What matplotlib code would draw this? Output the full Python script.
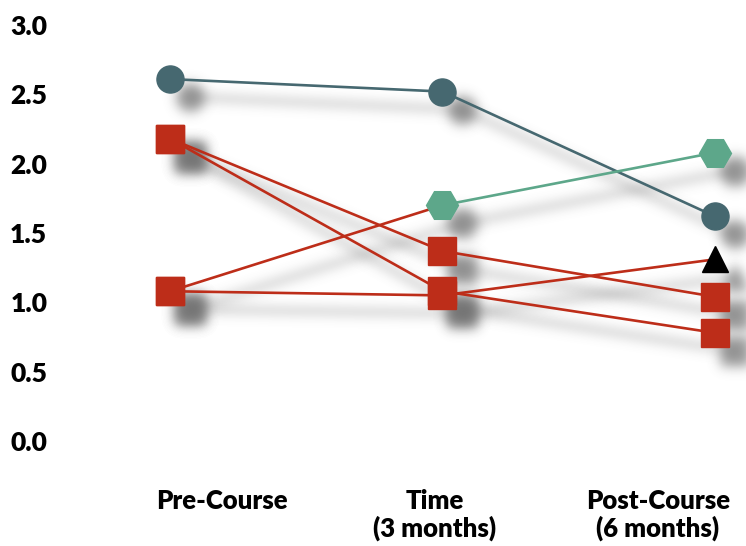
import matplotlib
matplotlib.use("Agg")
import matplotlib.pyplot as plt
import numpy as np

plt.rcParams['font.family'] = ['Lato', 'DejaVu Sans']
plt.rcParams['font.weight'] = 'heavy'

# categories along x and the scores of each tracked line
groups = ['Pre-Course', 'Time\n(3 months)', 'Post-Course\n(6 months)']
x = [0, 1, 2]
slate_scores = [2.61, 2.52, 1.62]
red_a_scores = [2.18, 1.37, 1.04]
red_b_scores = [2.18, 1.08, 0.78]
red_c_scores = [1.08, 1.05, 1.31]
mixed_scores = [1.08, 1.70, 2.08]
yticks = [0.0, 0.5, 1.0, 1.5, 2.0, 2.5, 3.0]

SLATE = '#466870'
RED = '#bd2d19'
GREEN = '#5da78a'
BLACK = '#000000'

# (scores, marker per point, colour per point)
series = [
    (slate_scores, ['o', 'o', 'o'], [SLATE, SLATE, SLATE]),
    (red_a_scores, ['s', 's', 's'], [RED, RED, RED]),
    (red_b_scores, ['s', 's', 's'], [RED, RED, RED]),
    (red_c_scores, ['s', 's', '^'], [RED, RED, BLACK]),
    (mixed_scores, ['s', 'H', 'H'], [RED, GREEN, GREEN]),
]
msize = {'o': 19.5, 's': 20, 'H': 23, '^': 19}


def drop_shadow(img, dpi, dx=20, dy=18, sigma=6.0):
    r = int(3 * sigma)
    pad = max(dx, dy) + r
    a = np.pad(img, ((pad, pad), (pad, pad), (0, 0)))
    alpha = np.roll(np.roll(a[..., 3], dx, axis=1), dy, axis=0)
    t = np.arange(-r, r + 1)
    k = np.exp(-t ** 2 / (2 * sigma ** 2))
    k /= k.sum()
    alpha = np.apply_along_axis(np.convolve, 0, alpha, k, mode='same')
    alpha = np.apply_along_axis(np.convolve, 1, alpha, k, mode='same')
    out = np.zeros_like(a)
    out[..., :3] = 0.42
    out[..., 3] = np.clip(alpha * 0.7, 0, 1)
    return out, -pad, -pad


fig = plt.figure(figsize=(7.46, 5.46), dpi=100)
ax = fig.add_axes([100 / 746, 86 / 546, 646 / 746, 450 / 546])

for ys, marks, cols in series:
    # soft grey shadow under the whole line
    sh, = ax.plot(x, ys, color='grey', lw=2.6, zorder=1)
    sh.set_agg_filter(drop_shadow)
    for m, xi, yi in zip(marks, x, ys):
        p, = ax.plot([xi], [yi], marker=m, ms=msize[m], color='grey', ls='none', zorder=1)
        p.set_agg_filter(drop_shadow)
    # segments take the colour of the point they start from
    for i in range(len(x) - 1):
        ax.plot(x[i:i + 2], ys[i:i + 2], color=cols[i], lw=1.9, zorder=3,
                solid_capstyle='butt')

for ys, marks, cols in series:
    for m, c, xi, yi in zip(marks, cols, x, ys):
        ax.plot([xi], [yi], marker=m, ms=msize[m], color=c, mec=c, ls='none', zorder=5)

ax.set_xlim(-70 / 272.5, 2 + 31 / 272.5)
ax.set_ylim(-19 / 138.67, 3 + 15 / 138.67)

ax.set_yticks(yticks, [f'{v:.1f}' for v in yticks])
ax.set_xticks([0.19, 0.972, 1.79], groups)
ax.tick_params(axis='y', length=0, pad=38, labelsize=19)
ax.tick_params(axis='x', length=0, pad=21, labelsize=18.5)
for lab in ax.get_xticklabels():
    lab.set_linespacing(1.1)

for s in ax.spines.values():
    s.set_visible(False)

fig.savefig('out.png', dpi=100, facecolor='white')
